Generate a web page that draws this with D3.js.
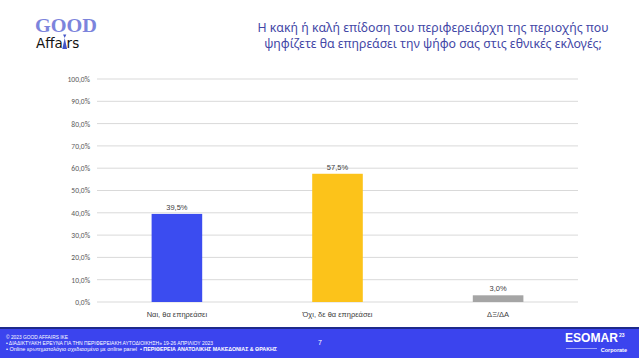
<!DOCTYPE html>
<html><head><meta charset="utf-8">
<script src="https://cdn.jsdelivr.net/npm/d3@7"></script>
<style>body{margin:0;background:#fff}svg{display:block}</style>
</head><body><svg id="c" width="639" height="358"></svg>
<script>
const categories = ["Ναι, θα επηρεάσει", "Όχι, δε θα επηρεάσει", "ΔΞ/ΔΑ"];
const values = [39.5, 57.5, 3.0];
const barColors = ["#3b4cf0", "#fcc31a", "#a5a5a5"];
const yTicks = [0,10,20,30,40,50,60,70,80,90,100];
const titleLines = ["Η κακή ή καλή επίδοση του περιφερειάρχη της περιοχής που","ψηφίζετε θα επηρεάσει την ψήφο σας στις εθνικές εκλογές;"];
const footerLines = ["© 2023 GOOD AFFAIRS IKE","• ΔΙΑΔΙΚΤΥΑΚΗ ΕΡΕΥΝΑ  ΓΙΑ ΤΗΝ ΠΕΡΙΦΕΡΕΙΑΚΗ ΑΥΤΟΔΙΟΙΚΗΣΗ» 19-26 ΑΠΡΙΛΙΟΥ 2023","• Online ερωτηματολόγιο σχεδιασμένο με online panel"];
const footerBold = "• ΠΕΡΙΦΕΡΕΙΑ ΑΝΑΤΟΛΙΚΗΣ ΜΑΚΕΔΟΝΙΑΣ & ΘΡΑΚΗΣ";

const svg = d3.select("#c");
const fmt = v => d3.format(".1f")(v).replace(".", ",") + "%";
const m = {left: 97, right: 578, top: 79, bottom: 302};
const x = d3.scaleBand().domain(categories).range([m.left, m.right]).paddingInner(0.685).paddingOuter(0.34);
const y = d3.scaleLinear().domain([0, 100]).range([m.bottom, m.top]);

// gridlines
svg.append("g").selectAll("line").data(yTicks).join("line")
  .attr("x1", m.left).attr("x2", m.right)
  .attr("y1", d => y(d)).attr("y2", d => y(d))
  .attr("stroke", "#d9d9d9").attr("stroke-width", 1);

// y axis
const ya = svg.append("g").attr("transform", `translate(${m.left},0)`)
  .call(d3.axisLeft(y).tickValues(yTicks).tickFormat(fmt).tickSize(0).tickPadding(7));
ya.select(".domain").remove();
ya.selectAll("text").attr("font-family", "Calibri, Carlito, 'Liberation Sans', sans-serif")
  .attr("font-size", 7.5).attr("fill", "#595959");

// bars
svg.append("g").selectAll("rect").data(values).join("rect")
  .attr("x", (d,i) => x(categories[i])).attr("width", x.bandwidth())
  .attr("y", d => y(d)).attr("height", d => y(0) - y(d))
  .attr("fill", (d,i) => barColors[i]);

// value labels
svg.append("g").selectAll("text").data(values).join("text")
  .attr("x", (d,i) => x(categories[i]) + x.bandwidth()/2)
  .attr("y", d => y(d) - 4)
  .attr("text-anchor", "middle")
  .attr("font-family", "'Liberation Sans', sans-serif").attr("font-size", 7.5).attr("fill", "#404040")
  .text(fmt);

// x axis labels
const xa = svg.append("g").attr("transform", `translate(0,${m.bottom})`)
  .call(d3.axisBottom(x).tickSize(0).tickPadding(10));
xa.select(".domain").remove();
xa.selectAll("text").attr("font-family", "'Liberation Sans', sans-serif").attr("font-size", 7.5).attr("fill", "#404040");

// title
svg.append("g").selectAll("text").data(titleLines).join("text")
  .attr("x", 433).attr("y", (d,i) => 32 + i*16).attr("text-anchor", "middle")
  .attr("font-family", "'Noto Sans', sans-serif").attr("font-size", 12.3).attr("fill", "#4347a6")
  .text(d => d);

// logo
svg.append("text").attr("x", 35).attr("y", 32).attr("font-family", "'Liberation Serif', serif")
  .attr("font-weight", "bold").attr("font-size", 18).attr("fill", "#7c84dc")
  .attr("textLength", 62).attr("lengthAdjust", "spacingAndGlyphs").text("GOOD");
const aff = svg.append("text").attr("x", 36).attr("y", 48).attr("font-family", "'DejaVu Sans', sans-serif")
  .attr("font-size", 13.5).attr("fill", "#111");
aff.append("tspan").text("Affa");
aff.append("tspan").attr("fill", "none").text("i");
aff.append("tspan").text("rs");
const node = aff.node();
const ix = 36 + node.getSubStringLength(0, 4);
const iw = node.getSubStringLength(4, 1);
const cx = ix + iw/2;
svg.append("path").attr("d", `M${cx},38 L${cx-2.4},49 L${cx+2.4},49 Z`).attr("fill", "#4455c8");
svg.append("path").attr("d", `M${cx-1.6},34.5 L${cx+1.6},34.5 L${cx},38 Z`).attr("fill", "#4455c8");

// footer
svg.append("rect").attr("x", 0).attr("y", 327).attr("width", 639).attr("height", 31).attr("fill", "#3b44ee");
svg.append("rect").attr("x", 0).attr("y", 327).attr("width", 639).attr("height", 2).attr("fill", "#1d2a8c");
const ft = svg.append("g").attr("font-family", "'Liberation Sans', sans-serif").attr("font-size", 5).attr("fill", "#fff");
const fLen = [62, 207, 131];
ft.selectAll("text").data(footerLines).join("text").attr("x", 6).attr("y", (d,i) => 339 + i*6)
  .attr("textLength", (d,i) => fLen[i]).attr("lengthAdjust", "spacingAndGlyphs").text(d => d);
ft.append("text").attr("x", 140).attr("y", 351).attr("font-weight", "bold")
  .attr("textLength", 137).attr("lengthAdjust", "spacingAndGlyphs").text(footerBold);
svg.append("text").attr("x", 318).attr("y", 345).attr("font-family", "'Liberation Sans', sans-serif")
  .attr("font-size", 7).attr("fill", "#fff").text("7");
svg.append("text").attr("x", 565).attr("y", 342).attr("font-family", "'Liberation Sans', sans-serif")
  .attr("font-weight", "bold").attr("font-size", 12.5).attr("fill", "#fff")
  .attr("textLength", 53).attr("lengthAdjust", "spacingAndGlyphs").text("ESOMAR");
svg.append("text").attr("x", 619).attr("y", 337).attr("font-family", "'Liberation Sans', sans-serif")
  .attr("font-weight", "bold").attr("font-size", 5).attr("fill", "#fff").text("23");
svg.append("line").attr("x1", 566).attr("x2", 597).attr("y1", 348.5).attr("y2", 348.5).attr("stroke", "#fff").attr("stroke-width", 0.5);
svg.append("text").attr("x", 627).attr("y", 352).attr("text-anchor", "end").attr("font-family", "'Liberation Sans', sans-serif")
  .attr("font-weight", "bold").attr("font-size", 5.5).attr("fill", "#fff").text("Corporate");
</script></body></html>
